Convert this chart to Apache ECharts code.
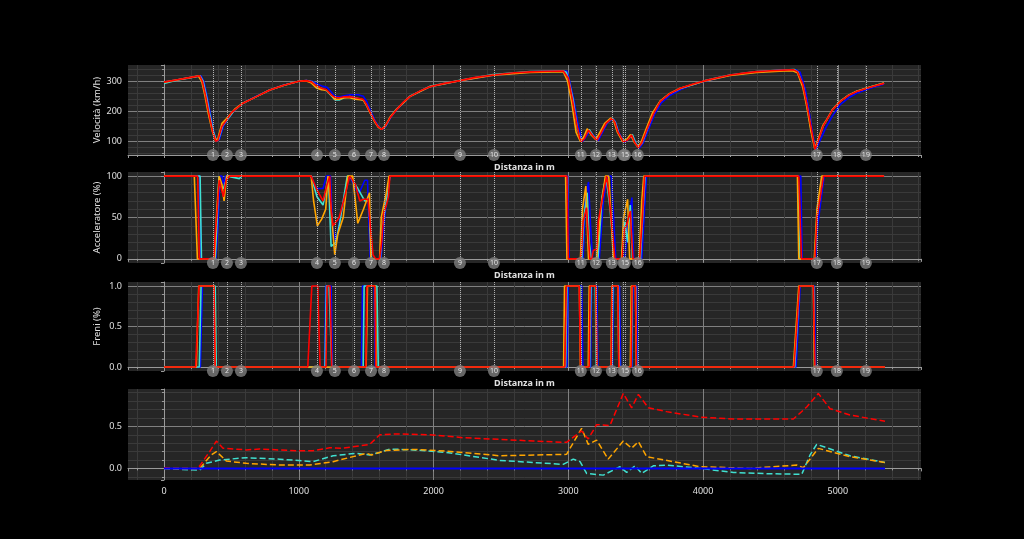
<!DOCTYPE html>
<html>
<head>
<meta charset="utf-8">
<script src="https://cdn.jsdelivr.net/npm/echarts@6/dist/echarts.min.js"></script>
<style>
html,body{margin:0;padding:0;background:#000;}
#chart{width:1024px;height:539px;}
</style>
</head>
<body>
<div id="chart"></div>
<script>
// curve numerate (la 15 prima della 14: nel grafico la 15 copre la 14)
const cornerDist = [363,467,571,1135,1268,1410,1536,1632,2196,2448,3093,3205,3323,3420,3410,3516,4844,4993,5208];
const cornerLabels = ['1','2','3','4','5','6','7','8','9','10','11','12','13','15','14','16','17','18','19'];

// velocita (km/h) [distanza, valore]
const speedBlue = [[0,297],[100,305],[200,313],[275,318],[295,300],[320,250],[345,190],[370,130],[390,101],[410,106],[440,150],[470,172],[525,205],[587,228],[686,250],[785,271],[884,287],[1000,300],[1057,302],[1100,300],[1140,290],[1180,283],[1210,280],[1245,262],[1267,250],[1300,248],[1340,252],[1380,255],[1440,255],[1480,250],[1505,232],[1535,200],[1565,170],[1595,148],[1620,140],[1645,150],[1685,182],[1725,205],[1824,249],[1972,282],[2196,302],[2443,320],[2715,331],[2963,334],[2990,334],[3010,300],[3040,240],[3075,150],[3105,100],[3130,115],[3160,135],[3190,118],[3222,103],[3290,162],[3330,175],[3350,165],[3380,125],[3418,97],[3450,110],[3478,118],[3505,92],[3528,78],[3555,95],[3595,140],[3640,190],[3690,228],[3750,252],[3830,272],[3920,288],[4014,300],[4200,320],[4398,331],[4600,337],[4690,338],[4720,330],[4760,270],[4790,190],[4815,120],[4838,73],[4870,105],[4910,145],[4960,185],[5017,222],[5080,245],[5140,260],[5239,277],[5343,291]];
const speedCyan = [[0,293],[100,304],[200,312],[268,318],[290,300],[315,250],[340,190],[365,135],[388,102],[405,106],[435,152],[466,170],[525,205],[587,227],[686,249],[785,271],[884,286],[1000,300],[1057,302],[1100,298],[1135,283],[1175,275],[1210,268],[1245,250],[1270,238],[1300,238],[1335,245],[1380,249],[1425,244],[1478,238],[1505,220],[1530,196],[1565,165],[1593,147],[1618,141],[1645,152],[1685,184],[1725,207],[1824,250],[1972,283],[2196,303],[2443,322],[2715,332],[2963,334],[2985,330],[3005,300],[3035,240],[3068,140],[3095,102],[3120,115],[3155,140],[3185,118],[3215,106],[3280,160],[3325,178],[3348,165],[3375,125],[3410,102],[3445,108],[3475,123],[3500,95],[3522,82],[3548,96],[3585,140],[3630,192],[3681,233],[3750,258],[3830,276],[4014,302],[4200,321],[4398,332],[4600,337],[4675,339],[4705,330],[4745,280],[4775,210],[4805,130],[4833,76],[4862,112],[4892,152],[4920,173],[4960,206],[5017,233],[5080,254],[5140,267],[5239,281],[5343,294]];
const speedOrange = [[0,297],[100,305],[200,313],[255,317],[280,300],[305,250],[330,190],[358,135],[383,103],[400,110],[430,160],[463,175],[525,207],[587,228],[686,249],[785,271],[884,286],[1000,300],[1057,301],[1095,294],[1131,278],[1170,272],[1205,270],[1240,255],[1267,240],[1300,240],[1335,245],[1379,245],[1420,240],[1478,238],[1500,222],[1527,197],[1560,168],[1589,148],[1615,140],[1640,151],[1680,182],[1725,206],[1824,249],[1972,282],[2196,302],[2443,320],[2715,329],[2963,332],[2970,330],[2995,300],[3025,230],[3058,130],[3090,100],[3115,115],[3140,142],[3170,122],[3205,106],[3270,160],[3315,178],[3340,165],[3365,130],[3402,100],[3435,107],[3462,123],[3490,97],[3515,82],[3540,97],[3578,142],[3625,195],[3681,234],[3750,259],[3830,277],[4014,301],[4200,319],[4398,329],[4600,334],[4665,335],[4700,328],[4740,280],[4770,215],[4800,135],[4828,76],[4858,112],[4888,152],[4917,172],[4960,206],[5017,233],[5080,254],[5140,267],[5239,281],[5343,294]];
const speedRed = [[0,297],[100,305],[200,313],[265,318],[285,300],[310,250],[335,190],[360,135],[384,101],[400,104],[430,150],[463,170],[500,195],[525,205],[587,227],[686,249],[785,271],[884,286],[1000,300],[1057,302],[1095,298],[1131,285],[1170,277],[1205,272],[1240,255],[1267,247],[1300,245],[1329,248],[1379,249],[1420,245],[1478,240],[1500,225],[1527,199],[1560,170],[1589,149],[1615,140],[1640,150],[1680,180],[1725,205],[1770,228],[1824,249],[1900,268],[1972,282],[2080,293],[2196,302],[2300,312],[2443,321],[2600,328],[2715,331],[2850,333],[2963,334],[2975,333],[3000,310],[3030,240],[3061,160],[3085,110],[3098,100],[3120,110],[3150,138],[3180,120],[3212,104],[3240,125],[3280,160],[3323,177],[3345,165],[3370,130],[3409,99],[3440,105],[3470,121],[3495,95],[3520,80],[3545,95],[3582,138],[3630,190],[3681,232],[3750,258],[3830,277],[3920,290],[4014,302],[4100,311],[4200,321],[4300,327],[4398,332],[4500,335],[4600,337],[4670,338],[4700,332],[4740,290],[4769,227],[4800,150],[4831,73],[4860,110],[4890,150],[4917,171],[4960,205],[5017,232],[5080,253],[5140,266],[5239,280],[5343,293]];

// acceleratore (%)
const thrBlue = [[0,100],[265,100],[275,0],[385,0],[400,40],[415,100],[430,100],[441,90],[455,100],[1092,100],[1130,85],[1180,85],[1205,100],[1235,100],[1250,40],[1275,20],[1330,70],[1378,100],[1420,85],[1450,80],[1490,95],[1510,95],[1530,0],[1610,0],[1625,30],[1650,70],[1676,100],[2995,100],[3005,0],[3110,0],[3125,70],[3150,93],[3165,40],[3180,0],[3230,0],[3260,70],[3290,100],[3320,100],[3352,0],[3420,0],[3440,40],[3472,74],[3485,0],[3545,0],[3565,60],[3580,100],[4725,100],[4735,0],[4835,0],[4850,40],[4898,100],[5343,100]];
const thrCyan = [[0,100],[268,100],[278,0],[380,0],[395,50],[408,100],[420,88],[441,85],[470,100],[560,97],[575,100],[1092,100],[1135,75],[1180,65],[1220,100],[1240,15],[1275,20],[1300,40],[1360,100],[1378,100],[1438,85],[1490,70],[1520,70],[1540,0],[1605,0],[1620,40],[1660,80],[1676,100],[2985,100],[2995,0],[3100,0],[3115,50],[3140,80],[3155,20],[3170,0],[3220,0],[3250,75],[3280,100],[3310,60],[3340,0],[3395,0],[3420,45],[3440,20],[3460,65],[3475,0],[3535,0],[3555,60],[3570,100],[4705,100],[4715,0],[4830,0],[4845,50],[4890,100],[5343,100]];
const thrOrange = [[0,100],[225,100],[248,0],[375,0],[392,60],[410,100],[430,90],[446,70],[465,100],[1092,100],[1110,70],[1138,40],[1170,48],[1200,60],[1217,100],[1245,50],[1267,5],[1290,30],[1330,50],[1364,100],[1400,100],[1438,43],[1480,60],[1525,80],[1535,0],[1600,0],[1612,50],[1650,80],[1670,100],[2980,100],[2990,0],[3090,0],[3105,60],[3130,88],[3150,0],[3210,0],[3240,60],[3275,100],[3300,100],[3335,0],[3395,0],[3410,50],[3440,72],[3455,0],[3525,0],[3545,70],[3560,100],[4700,100],[4710,0],[4825,0],[4845,60],[4880,100],[5343,100]];
const thrRed = [[0,100],[250,100],[262,0],[370,0],[380,30],[395,60],[410,95],[425,85],[441,75],[460,95],[488,100],[1092,100],[1130,85],[1180,70],[1210,90],[1230,100],[1240,60],[1255,40],[1300,50],[1340,75],[1378,100],[1420,90],[1453,70],[1480,72],[1514,72],[1551,5],[1570,0],[1600,0],[1615,20],[1630,55],[1650,65],[1665,75],[1676,100],[2990,100],[3000,0],[3095,0],[3110,45],[3135,62],[3160,0],[3175,0],[3185,10],[3210,12],[3222,45],[3250,70],[3284,100],[3300,80],[3346,0],[3400,0],[3415,35],[3440,45],[3460,58],[3470,25],[3480,0],[3530,0],[3550,50],[3566,100],[4710,100],[4720,50],[4730,0],[4830,0],[4845,50],[4865,70],[4893,100],[5343,100]];

// freni
const brkBlue = [[0,0],[270,0],[285,1],[371,1],[378,0],[1192,0],[1200,1],[1240,1],[1250,0],[1465,0],[1473,1],[1560,1],[1568,0],[2990,0],[3000,1],[3100,1],[3108,0],[3165,0],[3172,1],[3212,1],[3220,0],[3328,0],[3335,1],[3380,1],[3388,0],[3472,0],[3480,1],[3508,1],[3515,0],[4690,0],[4720,1],[4825,1],[4835,0],[5350,0]];
const brkCyan = [[0,0],[262,0],[275,1],[380,1],[388,0],[1195,0],[1205,1],[1225,1],[1245,0],[1478,0],[1485,1],[1580,1],[1590,0],[2980,0],[2990,1],[3085,1],[3093,0],[3158,0],[3168,1],[3200,1],[3208,0],[3322,0],[3330,1],[3372,1],[3380,0],[3468,0],[3475,1],[3500,1],[3507,0],[4680,0],[4715,1],[4820,1],[4828,0],[5350,0]];
const brkOrange = [[0,0],[240,0],[258,1],[372,1],[380,0],[1500,0],[1510,1],[1568,1],[1575,0],[2965,0],[2972,1],[3082,1],[3090,0],[3148,0],[3155,1],[3205,1],[3212,0],[3316,0],[3323,1],[3368,1],[3375,0],[3460,0],[3467,1],[3498,1],[3505,0],[4670,0],[4710,1],[4818,1],[4826,0],[5350,0]];
const brkRed = [[0,0],[235,0],[260,1],[371,1],[380,0],[1067,0],[1097,1],[1141,1],[1158,0],[1202,0],[1210,1],[1232,1],[1245,0],[1498,0],[1505,1],[1565,1],[1572,0],[2975,0],[2985,1],[3081,1],[3091,0],[3155,0],[3162,1],[3205,1],[3212,0],[3318,0],[3325,1],[3368,1],[3375,0],[3466,0],[3473,1],[3498,1],[3505,0],[4675,0],[4715,1],[4818,1],[4830,0],[5350,0]];

// delta tempo
const deltaBlue = [[0,0],[5350,0]];
const deltaCyan = [[0,0],[116,-0.012],[265,-0.02],[314,0.06],[413,0.1],[611,0.127],[859,0.11],[1106,0.08],[1255,0.15],[1428,0.18],[1527,0.16],[1601,0.19],[1676,0.23],[1849,0.22],[2096,0.19],[2492,0.095],[2962,0.048],[3037,0.11],[3087,0.08],[3136,-0.06],[3260,-0.08],[3383,0.02],[3433,-0.048],[3495,0.03],[3544,-0.06],[3631,0.03],[3730,0.04],[3977,0],[4225,-0.048],[4472,-0.063],[4732,-0.07],[4794,0.16],[4843,0.286],[5090,0.15],[5350,0.07]];
const deltaOrange = [[0,0],[265,0],[351,0.16],[389,0.2],[463,0.087],[611,0.06],[859,0.04],[1082,0.04],[1255,0.08],[1403,0.14],[1502,0.18],[1540,0.16],[1552,0.18],[1651,0.214],[1849,0.226],[2096,0.206],[2492,0.15],[2987,0.167],[3099,0.476],[3148,0.286],[3210,0.337],[3296,0.11],[3408,0.325],[3470,0.24],[3520,0.317],[3582,0.139],[3977,0.02],[4349,0],[4695,0.04],[4744,0.008],[4855,0.238],[5090,0.139],[5350,0.07]];
const deltaRed = [[0,0.008],[67,0],[252,0],[339,0.2],[389,0.325],[438,0.24],[611,0.22],[710,0.23],[983,0.21],[1106,0.21],[1230,0.245],[1329,0.24],[1527,0.285],[1601,0.4],[1725,0.41],[1973,0.4],[2220,0.365],[2492,0.345],[2740,0.325],[2987,0.31],[3099,0.445],[3148,0.35],[3210,0.52],[3309,0.51],[3408,0.89],[3470,0.72],[3520,0.88],[3594,0.72],[3730,0.675],[3977,0.61],[4225,0.587],[4670,0.587],[4769,0.73],[4855,0.89],[4942,0.71],[5090,0.635],[5350,0.56]];

const colors = ['#0000ff', '#40e0d0', '#ffa500', '#ff0000'];
const yNames = ['Velocità (km/h)', 'Acceleratore (%)', 'Freni (%)', ''];
const yMin = [55, -5, -0.05, -0.138];
const yMax = [354, 105, 1.05, 0.944];
const ySplit = [3, 2, 2, 2];
const xMin = -267, xMax = 5617;

var chart = echarts.init(document.getElementById('chart'));

const tops = [65, 172, 282, 389];
const heights = [90, 91, 89, 91];
const font = 'Noto Sans';

let grid = tops.map((t, i) => ({
    left: 128, width: 793, top: t, height: heights[i],
    show: true, backgroundColor: '#262626', borderWidth: 0
}));

let xAxis = tops.map((t, i) => ({
    type: 'value', gridIndex: i, min: xMin, max: xMax,
    name: i < 3 ? 'Distanza in m' : '',
    nameLocation: 'middle', nameGap: 8, nameMoveOverlap: false,
    nameTextStyle: {color: '#e0e0e0', fontSize: 9, fontWeight: 'bold', fontFamily: font},
    axisLine: {show: true, lineStyle: {color: '#9a9a9a', width: 1}},
    axisTick: {show: true, length: 3, lineStyle: {color: '#9a9a9a'}},
    minorTick: {show: true, splitNumber: 5, length: 2, lineStyle: {color: '#9a9a9a'}},
    axisLabel: {show: i == 3, color: '#e0e0e0', fontSize: 9, fontFamily: font, margin: 7,
        showMinLabel: false, showMaxLabel: false, formatter: v => String(v)},
    splitLine: {show: true, showMinLine: false, showMaxLine: false, lineStyle: {color: '#808080', width: 1}},
    minorSplitLine: {show: true, lineStyle: {color: '#3a3a3a', width: 1}}
}));

let yAxis = tops.map((t, i) => ({
    type: 'value', gridIndex: i, min: yMin[i], max: yMax[i], splitNumber: ySplit[i],
    name: yNames[i], nameLocation: 'middle', nameGap: 26, nameMoveOverlap: false,
    nameTextStyle: {color: '#e0e0e0', fontSize: 9.5, fontFamily: font},
    axisLine: {show: true, lineStyle: {color: '#9a9a9a', width: 1}},
    axisTick: {show: true, length: 3, lineStyle: {color: '#9a9a9a'}},
    minorTick: {show: true, splitNumber: 5, length: 2, lineStyle: {color: '#9a9a9a'}},
    axisLabel: {color: '#e0e0e0', fontSize: 9, fontFamily: font, margin: 6, showMinLabel: false, showMaxLabel: false,
        formatter: v => i >= 2 ? v.toFixed(1) : String(v)},
    splitLine: {show: true, showMinLine: false, showMaxLine: false, lineStyle: {color: '#808080', width: 1}},
    minorSplitLine: {show: true, lineStyle: {color: '#3a3a3a', width: 1}}
}));

function lineSeries(data, idx, color, dashed, w) {
    return {
        type: 'line', xAxisIndex: idx, yAxisIndex: idx, data: data,
        showSymbol: false, symbol: 'none', animation: false, z: 3,
        lineStyle: {color: color, width: w || 1.6, type: dashed ? 'dashed' : 'solid'}
    };
}

let series = [];
const panels = [
    [speedBlue, speedCyan, speedOrange, speedRed],
    [thrBlue, thrCyan, thrOrange, thrRed],
    [brkBlue, brkCyan, brkOrange, brkRed]
];
panels.forEach((p, i) => {
    // linee tratteggiate delle curve
    series.push({
        type: 'line', xAxisIndex: i, yAxisIndex: i, z: 1, animation: false,
        data: cornerDist.map(d => [d, yMin[i]]),
        symbol: 'none', lineStyle: {opacity: 0},
        markLine: {
            silent: true, symbol: 'none', animation: false,
            label: {show: false},
            lineStyle: {type: 'dotted', color: '#b0b0b0', width: 1},
            data: cornerDist.map(d => ({xAxis: d}))
        }
    });
    p.forEach((d, k) => series.push(lineSeries(d, i, colors[k])));
    series.push({
        type: 'scatter', xAxisIndex: i, yAxisIndex: i, z: 10, clip: false, animation: false,
        data: cornerDist.map((d, k) => [d, yMin[i], cornerLabels[k]]),
        symbolSize: 12, itemStyle: {color: '#808080'},
        labelLayout: {hideOverlap: true},
        label: {show: true, position: 'inside', formatter: q => q.data[2], color: '#ffffff', fontSize: 7, fontFamily: font}
    });
});
[deltaCyan, deltaOrange, deltaRed].forEach((d, k) => series.push(lineSeries(d, 3, colors[k + 1], true, 1.5)));
series.push(lineSeries(deltaBlue, 3, colors[0], false, 2));

const option = {
    backgroundColor: '#000000',
    animation: false,
    grid: grid,
    xAxis: xAxis,
    yAxis: yAxis,
    series: series
};
chart.setOption(option);
</script>
</body>
</html>
